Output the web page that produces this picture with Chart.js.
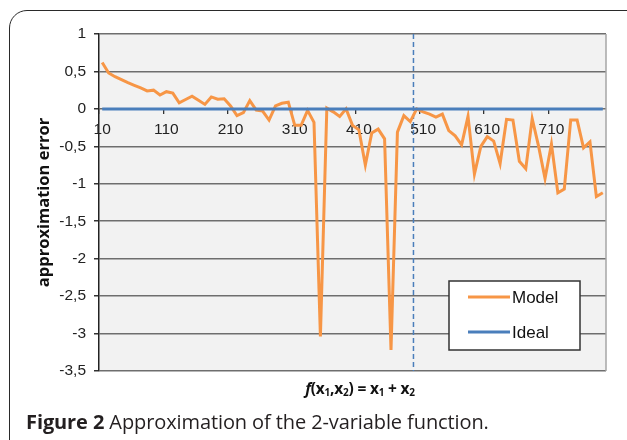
<!DOCTYPE html>
<html>
<head>
<meta charset="utf-8">
<title>Figure 2</title>
<script src="https://cdn.jsdelivr.net/npm/chart.js@4.4.0/dist/chart.umd.min.js"></script>
<style>
  html, body { margin: 0; padding: 0; background: #fff; }
  body { position: relative; width: 627px; height: 440px; overflow: hidden; font-family: "Open Sans", sans-serif; color: #231f20; }
  .frame { position: absolute; left: 9px; top: 10px; width: 660px; height: 480px; box-sizing: border-box; border: 1.5px solid #2a2a2a; border-radius: 18px; }
  #errorChart { position: absolute; left: 0; top: 0; }
  .x-title { position: absolute; left: 240px; top: 379px; width: 240px; text-align: center; font-size: 15.5px; line-height: 18px; font-weight: bold; color: #111; letter-spacing: -0.2px; }
  .x-title sub { font-size: 10px; vertical-align: -2px; line-height: 0; }
  .caption { position: absolute; left: 26px; top: 410px; font-size: 20px; line-height: 24px; white-space: nowrap; letter-spacing: -0.1px; }
</style>
</head>
<body>
<div class="frame"></div>
<canvas id="errorChart" width="627" height="440"></canvas>
<div class="x-title"><i>f</i>(x<sub>1</sub>,x<sub>2</sub>) = x<sub>1</sub> + x<sub>2</sub></div>
<div class="caption"><b>Figure 2</b> Approximation of the 2-variable function.</div>
<script>
"use strict";

const categories = [
  "10", "20", "30", "40", "50", "60", "70", "80", "90", "100",
  "110", "120", "130", "140", "150", "160", "170", "180", "190", "200",
  "210", "220", "230", "240", "250", "260", "270", "280", "290", "300",
  "310", "320", "330", "340", "350", "360", "370", "380", "390", "400",
  "410", "420", "430", "440", "450", "460", "470", "480", "490", "500",
  "510", "520", "530", "540", "550", "560", "570", "580", "590", "600",
  "610", "620", "630", "640", "650", "660", "670", "680", "690", "700",
  "710", "720", "730", "740", "750", "760", "770", "780", "790",
];

const modelError = [
  0.62, 0.48, 0.43, 0.39, 0.35, 0.315, 0.28, 0.24, 0.25, 0.185,
  0.23, 0.21, 0.08, 0.125, 0.17, 0.115, 0.06, 0.16, 0.13, 0.135,
  0.04, -0.09, -0.05, 0.11, -0.015, -0.03, -0.15, 0.04, 0.075, 0.09,
  -0.22, -0.22, -0.02, -0.18, -3.04, 0.01, -0.04, -0.1, 0.0, -0.22,
  -0.28, -0.75, -0.32, -0.27, -0.4, -3.22, -0.31, -0.09, -0.17, 0.0,
  -0.04, -0.07, -0.11, -0.07, -0.29, -0.36, -0.48, -0.1, -0.87, -0.5,
  -0.37, -0.43, -0.73, -0.14, -0.15, -0.7, -0.8, -0.13, -0.5, -0.93,
  -0.47, -1.12, -1.07, -0.15, -0.15, -0.52, -0.44, -1.17, -1.12,
];

const idealError = [
  0, 0, 0, 0, 0, 0, 0, 0, 0, 0,
  0, 0, 0, 0, 0, 0, 0, 0, 0, 0,
  0, 0, 0, 0, 0, 0, 0, 0, 0, 0,
  0, 0, 0, 0, 0, 0, 0, 0, 0, 0,
  0, 0, 0, 0, 0, 0, 0, 0, 0, 0,
  0, 0, 0, 0, 0, 0, 0, 0, 0, 0,
  0, 0, 0, 0, 0, 0, 0, 0, 0, 0,
  0, 0, 0, 0, 0, 0, 0, 0, 0,
];

const xTickLabels = ["10", "110", "210", "310", "410", "510", "610", "710"];
const yTickValues = [1, 0.5, 0, -0.5, -1, -1.5, -2, -2.5, -3, -3.5];
// dashed marker sits between these two categories
const dividerBetween = ["490", "500"];

const orange = "#f79646";
const blue = "#4a7ebb";
const tickFont = { family: "'Liberation Sans', Arial, sans-serif", size: 15.5 };

const plotDecor = {
  id: "plotDecor",
  beforeDraw(chart) {
    const { ctx, chartArea: a } = chart;
    ctx.save();
    ctx.fillStyle = "#f2f2f2";
    ctx.fillRect(a.left, a.top, a.right - a.left, a.bottom - a.top);
    ctx.restore();
  },
  beforeDatasetsDraw(chart) {
    const { ctx, chartArea: a, scales } = chart;
    const x0 = scales.x.getPixelForValue(categories.indexOf(dividerBetween[0]));
    const x1 = scales.x.getPixelForValue(categories.indexOf(dividerBetween[1]));
    const x = (x0 + x1) / 2;
    ctx.save();
    ctx.strokeStyle = blue;
    ctx.lineWidth = 1.5;
    ctx.setLineDash([5, 3]);
    ctx.beginPath();
    ctx.moveTo(x, a.top);
    ctx.lineTo(x, a.bottom);
    ctx.stroke();
    ctx.restore();
  },
  afterDraw(chart) {
    const { ctx, chartArea: a } = chart;
    ctx.save();
    // right edge of the plot
    ctx.strokeStyle = "#a6a6a6";
    ctx.lineWidth = 1.5;
    ctx.beginPath();
    ctx.moveTo(a.right, a.top);
    ctx.lineTo(a.right, a.bottom);
    ctx.stroke();

    // legend box
    const boxW = 131;
    const boxH = 69;
    const left = a.right - 26 - boxW;
    const top = a.bottom - 21 - boxH;
    ctx.fillStyle = "#fff";
    ctx.fillRect(left, top, boxW, boxH);
    ctx.strokeStyle = "#333";
    ctx.lineWidth = 1.5;
    ctx.strokeRect(left, top, boxW, boxH);

    ctx.font = "17px 'Liberation Sans', Arial, sans-serif";
    ctx.textBaseline = "middle";
    chart.data.datasets.forEach((ds, i) => {
      const y = top + 16 + i * 35;
      ctx.strokeStyle = ds.borderColor;
      ctx.lineWidth = 3;
      ctx.beginPath();
      ctx.moveTo(left + 19, y);
      ctx.lineTo(left + 61, y);
      ctx.stroke();
      ctx.fillStyle = "#111";
      ctx.fillText(ds.label, left + 63, y + 1);
    });
    ctx.restore();
  },
};

const myChart = new Chart(document.getElementById("errorChart"), {
  type: "line",
  data: {
    labels: categories,
    datasets: [
      {
        label: "Model",
        data: modelError,
        borderColor: orange,
        borderWidth: 3,
        pointRadius: 0,
        tension: 0,
        order: 1,
      },
      {
        label: "Ideal",
        data: idealError,
        borderColor: blue,
        borderWidth: 3,
        pointRadius: 0,
        tension: 0,
        order: 0,
      },
    ],
  },
  options: {
    responsive: false,
    animation: false,
    devicePixelRatio: 1,
    layout: {
      padding: { left: 0, top: 34, right: 21, bottom: 69 },
    },
    plugins: {
      legend: { display: false },
      tooltip: { enabled: false },
    },
    scales: {
      x: {
        type: "category",
        position: { y: 0 },
        offset: true,
        grid: {
          offset: true,
          drawOnChartArea: false,
          tickLength: 5,
          lineWidth: 1.3,
          color: (ctx) => (ctx.index % 10 === 0 ? "#333" : "rgba(0,0,0,0)"),
        },
        border: { display: false },
        ticks: {
          autoSkip: false,
          maxRotation: 0,
          padding: 7,
          font: tickFont,
          color: "#222",
          callback: function (value) {
            const label = this.getLabelForValue(value);
            return xTickLabels.includes(label) ? label : "";
          },
        },
      },
      y: {
        min: -3.5,
        max: 1,
        afterBuildTicks: (scale) => {
          scale.ticks = yTickValues.map((v) => ({ value: v }));
        },
        afterFit: (scale) => {
          scale.width = 99;
        },
        grid: {
          color: "#6e6e6e",
          lineWidth: 1.5,
          tickLength: 5,
          tickColor: "#333",
        },
        border: { color: "#222", width: 1.5 },
        ticks: {
          padding: 8,
          font: tickFont,
          color: "#222",
          callback: (value) => String(value).replace(".", ","),
        },
        title: {
          display: true,
          text: "approximation error",
          color: "#111",
          font: { family: "'Open Sans', sans-serif", size: 16.5, weight: "bold" },
          padding: { top: 34, bottom: 0 },
        },
      },
    },
  },
  plugins: [plotDecor],
});
</script>
</body>
</html>
